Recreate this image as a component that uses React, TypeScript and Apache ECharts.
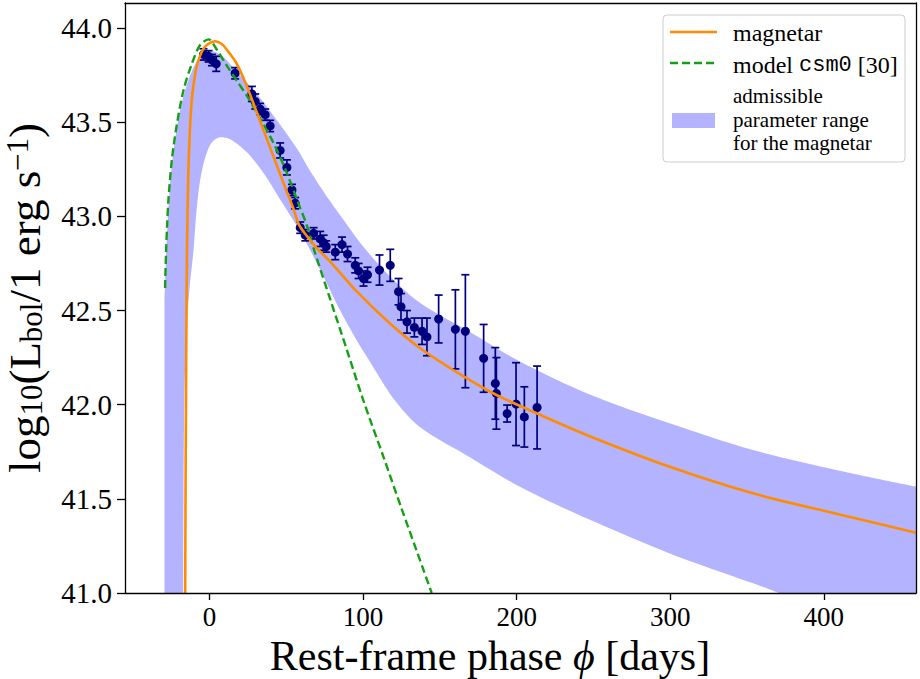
import React, { useEffect, useRef } from "react";
import * as echarts from "echarts";

// observed bolometric light curve (rest-frame days, log10 L, 1-sigma)
const obsPhase = [
  -3.9, -0.6, 1.6, 4.4, 16.7, 27.6, 29.8, 33.0, 36.3, 39.5, 46.0, 50.4, 53.7,
  55.8, 59.1, 62.4, 67.8, 72.1, 74.3, 76.0, 81.9, 86.3, 89.9, 94.9, 97.1, 100.3,
  102.9, 110.7, 117.7, 123.1, 124.7, 128.6, 133.4, 138.4, 141.6, 149.2, 160.1,
  166.6, 178.5, 186.1, 186.8, 193.8, 199.6, 205.0, 213.3,
];
const obsLogL = [
  43.86, 43.85, 43.83, 43.81, 43.76, 43.65, 43.61, 43.57, 43.54, 43.48, 43.35,
  43.26, 43.14, 43.07, 42.94, 42.9, 42.91, 42.88, 42.86, 42.84, 42.81, 42.85,
  42.8, 42.74, 42.71, 42.67, 42.69, 42.715, 42.74, 42.6, 42.52, 42.44, 42.41,
  42.39, 42.36, 42.455, 42.4, 42.39, 42.246, 42.113, 42.06, 41.953, 42.003,
  41.935, 41.985,
];
const obsErr = [
  0.03, 0.03, 0.03, 0.04, 0.03, 0.04, 0.04, 0.03, 0.03, 0.03, 0.04, 0.04, 0.03,
  0.03, 0.03, 0.03, 0.03, 0.04, 0.04, 0.03, 0.04, 0.04, 0.04, 0.04, 0.04, 0.04,
  0.04, 0.08, 0.085, 0.07, 0.07, 0.06, 0.05, 0.07, 0.1, 0.127, 0.21, 0.3, 0.18,
  0.19, 0.19, 0.045, 0.22, 0.16, 0.22,
];

// best-fit magnetar model
const magnetarPhase = [
  -15.8, -15.6, -15.3, -15.0, -14.6, -13.8, -12.8, -11.5, -10, -8.2, -6, -3.9,
  -1, 3.7, 8, 11.3, 17.8, 24.4, 30.9, 37.4, 43.9, 50.4, 54.7, 58, 62, 70, 78.6,
  96, 117.7, 137.2, 165.5, 187.2, 213.3, 245.9, 300.1, 354.4, 408.7, 460,
];
const magnetarLogL = [
  41.0, 41.5, 42.0, 42.45, 42.85, 43.22, 43.45, 43.62, 43.72, 43.8, 43.855,
  43.89, 43.915, 43.93, 43.915, 43.885, 43.81, 43.69, 43.55, 43.41, 43.27, 43.13,
  43.04, 42.96, 42.91, 42.83, 42.76, 42.6, 42.43, 42.3, 42.15, 42.05, 41.953,
  41.838, 41.669, 41.528, 41.42, 41.32,
];

// csm0 model
const csmPhase = [
  -28.9, -28.3, -27.6, -26.7, -24.5, -21.2, -16.9, -11.5, -6.1, -0.6, 4.8, 11.3,
  17.8, 24.4, 30.9, 41.7, 50.4, 56.9, 63.5, 67.8, 78.6, 89.5, 100.3, 113.4, 125,
  144.7,
];
const csmLogL = [
  42.62, 42.8, 42.95, 43.09, 43.3, 43.49, 43.67, 43.81, 43.91, 43.94, 43.885,
  43.8, 43.72, 43.64, 43.55, 43.39, 43.23, 43.09, 42.95, 42.83, 42.56, 42.29,
  42.02, 41.72, 41.45, 41.0,
];

// admissible parameter range of the magnetar
const bandUpperPhase = [
  -29.3, -28.6, -27.8, -26.7, -24.5, -21.2, -16.9, -11.5, -6, -1, 7, 20, 30.9,
  43.9, 56.9, 65.6, 78.6, 90, 100, 117.7, 137.2, 169.8, 202.4, 245.9, 300.1,
  354.4, 408.7, 460,
];
const bandUpperLogL = [
  42.55, 42.72, 42.88, 43.05, 43.27, 43.47, 43.64, 43.77, 43.85, 43.88, 43.86,
  43.75, 43.65, 43.51, 43.36, 43.24, 43.08, 42.95, 42.84, 42.68, 42.54, 42.385,
  42.228, 42.06, 41.9, 41.758, 41.652, 41.565,
];
const bandLowerPhase = [
  -17.1, -16.9, -16.4, -15.2, -13.2, -10.4, -8.2, -5, 0.5, 7, 13.5, 24.4, 35.2,
  46, 56.9, 65.6, 74.3, 85.1, 96, 103.6, 120, 137.2, 169.8, 202.4, 245.9, 300.1,
  354.4, 370.7,
];
const bandLowerLogL = [
  41.0, 41.5, 42.0, 42.35, 42.6, 42.82, 43.05, 43.24, 43.38, 43.42, 43.41,
  43.34, 43.23, 43.09, 42.95, 42.82, 42.68, 42.5, 42.34, 42.24, 42.03, 41.88,
  41.72, 41.563, 41.395, 41.209, 41.05, 41.0,
];

const xTicks = [0, 100, 200, 300, 400];
const yTicks = [41.0, 41.5, 42.0, 42.5, 43.0, 43.5, 44.0];
const legendBandLines = ["admissible", "parameter range", "for the magnetar"];

const SERIF = "Liberation Serif";
const MONO = "Liberation Mono";
const NAVY = "#00007f";
const ORANGE = "#ff8c00";
const GREEN = "#13a013";
const BAND = "#b3b3ff";

const X_MIN = -55;
const X_MAX = 460;
const Y_MIN = 41.0;
const Y_MAX = 44.133;

const App: React.FC = () => {
  const chartRef = useRef<HTMLDivElement>(null);

  useEffect(() => {
    document.body.style.margin = "0";
    const chart = echarts.init(chartRef.current!, null, { renderer: "svg" });

    const frameAxis = {
      axisLine: { show: true, onZero: false, lineStyle: { color: "#000", width: 1.3 } },
      axisTick: { show: false },
      axisLabel: { show: false },
      splitLine: { show: false },
      z: 10,
    };

    const options = {
      animation: false,
      backgroundColor: "#ffffff",
      grid: {
        left: 125,
        right: 4,
        top: 3,
        bottom: 86,
        outerBoundsMode: "none",
        containLabel: false,
      },
      xAxis: [
        {
          type: "value",
          min: X_MIN,
          max: X_MAX,
          z: 10,
          axisLine: { onZero: false, lineStyle: { color: "#000", width: 1.3 } },
          axisTick: {
            length: 7,
            lineStyle: { color: "#000", width: 1.3 },
            customValues: xTicks,
          },
          axisLabel: {
            customValues: xTicks,
            margin: 10,
            fontFamily: SERIF,
            fontSize: 27,
            color: "#000",
            formatter: (v: number) => String(v),
          },
          splitLine: { show: false },
        },
        { type: "value", position: "top", min: X_MIN, max: X_MAX, ...frameAxis },
      ],
      yAxis: [
        {
          type: "value",
          min: Y_MIN,
          max: Y_MAX,
          z: 10,
          name: "{a|log}{s|10}{a|(L}{s|bol}{a|/1 erg s}{p|−1}{a|)}",
          nameLocation: "middle",
          nameRotate: 90,
          nameGap: 78,
          nameTextStyle: {
            rich: {
              a: { fontFamily: SERIF, fontSize: 45, color: "#000" },
              s: { fontFamily: SERIF, fontSize: 31, color: "#000", verticalAlign: "bottom" },
              p: { fontFamily: SERIF, fontSize: 31, color: "#000", verticalAlign: "top" },
            },
          },
          axisLine: { show: true, onZero: false, lineStyle: { color: "#000", width: 1.3 } },
          axisTick: {
            show: true,
            length: 8,
            lineStyle: { color: "#000", width: 1.3 },
            customValues: yTicks,
          },
          axisLabel: {
            customValues: yTicks,
            margin: 13,
            fontFamily: SERIF,
            fontSize: 29,
            color: "#000",
            formatter: (v: number) => v.toFixed(1),
          },
          splitLine: { show: false },
        },
        { type: "value", position: "right", min: Y_MIN, max: Y_MAX, ...frameAxis },
      ],
      series: [
        {
          name: "admissible parameter range",
          type: "line",
          z: 1,
          silent: true,
          smooth: 0.3,
          showSymbol: false,
          lineStyle: { width: 0, color: BAND },
          areaStyle: { color: BAND, opacity: 1, origin: "start" },
          data: bandUpperPhase.map((p, i) => [p, bandUpperLogL[i]]),
        },
        {
          name: "band inner",
          type: "line",
          z: 1,
          silent: true,
          smooth: 0.3,
          showSymbol: false,
          lineStyle: { width: 0, color: "#ffffff" },
          areaStyle: { color: "#ffffff", opacity: 1, origin: "start" },
          data: bandLowerPhase.map((p, i) => [p, bandLowerLogL[i]]),
        },
        {
          name: "errors",
          type: "custom",
          z: 2,
          data: obsPhase.map((p, i) => [p, obsLogL[i], obsErr[i]]),
          renderItem: (_params: any, api: any) => {
            const x = api.value(0);
            const y = api.value(1);
            const e = api.value(2);
            const top = api.coord([x, y + e]);
            const bot = api.coord([x, y - e]);
            const hw = 4;
            const st = { stroke: NAVY, lineWidth: 1.7 };
            return {
              type: "group",
              children: [
                { type: "line", shape: { x1: top[0], y1: top[1], x2: bot[0], y2: bot[1] }, style: st },
                { type: "line", shape: { x1: top[0] - hw, y1: top[1], x2: top[0] + hw, y2: top[1] }, style: st },
                { type: "line", shape: { x1: bot[0] - hw, y1: bot[1], x2: bot[0] + hw, y2: bot[1] }, style: st },
              ],
            };
          },
        },
        {
          name: "data",
          type: "scatter",
          z: 3,
          symbolSize: 9,
          itemStyle: { color: NAVY, opacity: 1 },
          data: obsPhase.map((p, i) => [p, obsLogL[i]]),
        },
        {
          name: "model csm0",
          type: "line",
          z: 4,
          smooth: 0.3,
          showSymbol: false,
          lineStyle: { color: GREEN, width: 2.4, type: [8, 4] },
          data: csmPhase.map((p, i) => [p, csmLogL[i]]),
        },
        {
          name: "magnetar",
          type: "line",
          z: 5,
          smooth: 0.3,
          showSymbol: false,
          lineStyle: { color: ORANGE, width: 2.6 },
          data: magnetarPhase.map((p, i) => [p, magnetarLogL[i]]),
        },
      ],
      graphic: [
        {
          type: "text",
          x: 490,
          y: 655.5,
          style: {
            text: "{a|Rest-frame phase }{i|ϕ}{a| [days]}",
            align: "center",
            verticalAlign: "middle",
            rich: {
              a: { fontFamily: SERIF, fontSize: 42, fill: "#000" },
              i: { fontFamily: SERIF, fontSize: 42, fontStyle: "italic", fill: "#000" },
            },
          },
        },
        {
          type: "group",
          z: 100,
          children: [
            {
              type: "rect",
              shape: { x: 663, y: 15, width: 242, height: 147, r: 4 },
              style: { fill: "rgba(255,255,255,0.8)", stroke: "#cccccc", lineWidth: 1 },
            },
            {
              type: "line",
              shape: { x1: 670, y1: 32, x2: 717, y2: 32 },
              style: { stroke: ORANGE, lineWidth: 2.6 },
            },
            {
              type: "text",
              x: 733,
              y: 33,
              style: {
                text: "magnetar",
                fontFamily: SERIF,
                fontSize: 24,
                fill: "#000",
                verticalAlign: "middle",
              },
            },
            {
              type: "line",
              shape: { x1: 670, y1: 63, x2: 717, y2: 63 },
              style: { stroke: GREEN, lineWidth: 2.4, lineDash: [8, 4] },
            },
            {
              type: "text",
              x: 733,
              y: 65,
              style: {
                text: "{a|model }{m|csm0}{a| [30]}",
                verticalAlign: "middle",
                rich: {
                  a: { fontFamily: SERIF, fontSize: 24, fill: "#000" },
                  m: { fontFamily: MONO, fontSize: 22, fill: "#000" },
                },
              },
            },
            {
              type: "rect",
              shape: { x: 672, y: 113, width: 43, height: 15 },
              style: { fill: BAND },
            },
            ...legendBandLines.map((line, i) => ({
              type: "text",
              x: 733,
              y: 96 + i * 23.5,
              style: {
                text: line,
                fontFamily: SERIF,
                fontSize: 21,
                fill: "#000",
                verticalAlign: "middle",
              },
            })),
          ],
        },
      ],
    };

    chart.setOption(options);
    return () => {
      chart.dispose();
    };
  }, []);

  return <div ref={chartRef} style={{ width: 920, height: 679 }}></div>;
};

export default App;
